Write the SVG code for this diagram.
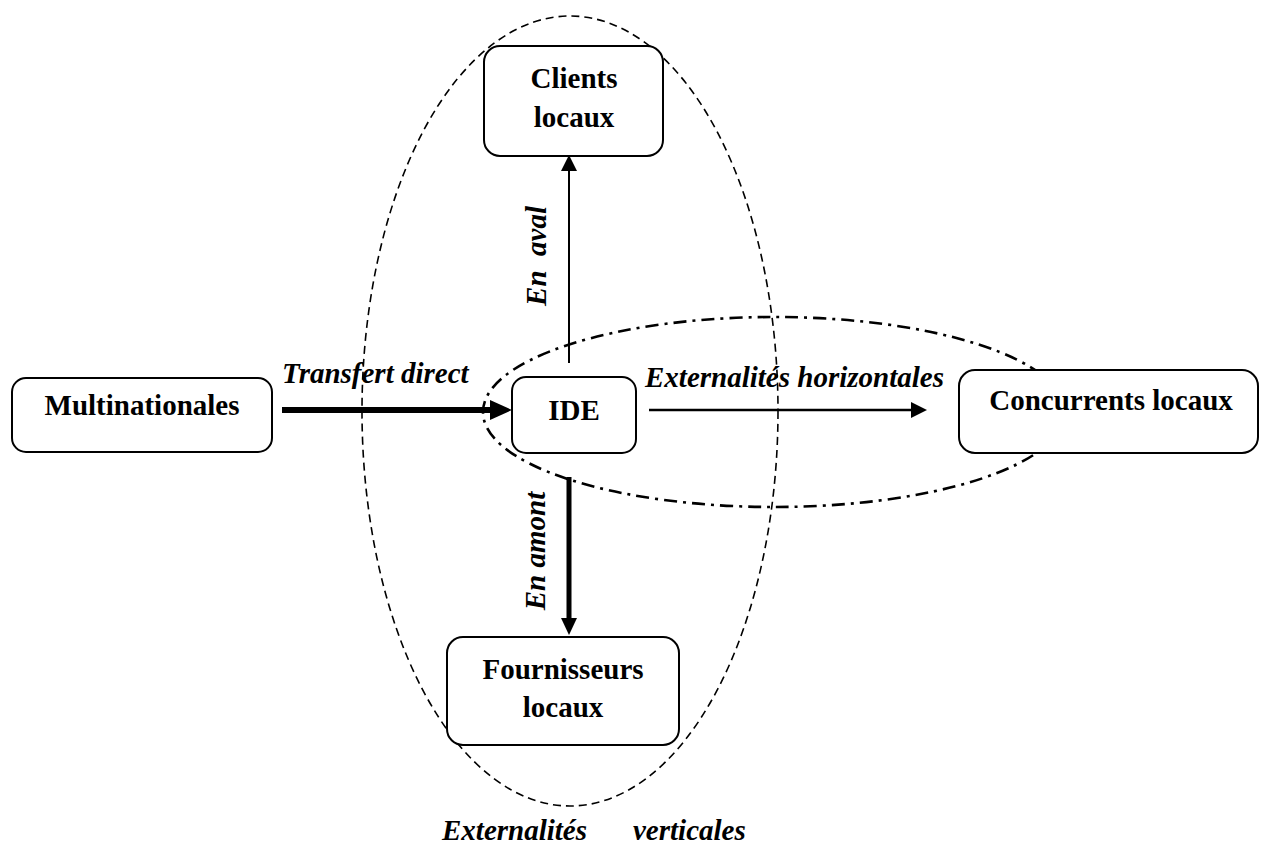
<svg xmlns="http://www.w3.org/2000/svg" width="1261" height="845" viewBox="0 0 1261 845">
<style>
.box{fill:#fff;stroke:#000;stroke-width:2}
.lbl{font-family:"Liberation Serif","Times New Roman",serif;font-size:29px;font-weight:bold;fill:#000;text-anchor:middle}
.it{font-family:"Liberation Serif","Times New Roman",serif;font-size:29px;font-weight:bold;font-style:italic;fill:#000}
.ln{stroke:#000;fill:none}
</style>
<rect width="1261" height="845" fill="#fff"/>
<g id="groups">
<ellipse cx="570" cy="411" rx="208" ry="395" fill="none" stroke="#000" stroke-width="1.6" stroke-dasharray="8 5"/>
<ellipse cx="774" cy="412" rx="291" ry="95" fill="none" stroke="#000" stroke-width="2.6" stroke-dasharray="13 6 3 6"/>
</g>
<g id="connectors">
<line class="ln" x1="282" y1="410" x2="492" y2="410" stroke-width="6"/>
<polygon points="490,400 512,410 490,420" fill="#000"/>
<line class="ln" x1="569" y1="363" x2="569" y2="170" stroke-width="2"/>
<polygon points="561,171 569,155 577,171" fill="#000"/>
<line class="ln" x1="649" y1="410" x2="912" y2="410" stroke-width="2.5"/>
<polygon points="911,402 927,410 911,418" fill="#000"/>
<line class="ln" x1="569" y1="477" x2="569" y2="620" stroke-width="5"/>
<polygon points="561,618 569,635 577,618" fill="#000"/>
</g>
<g id="labels">
<text class="it" x="282" y="383">Transfert direct</text>
<text class="it" x="645" y="387">Externalités horizontales</text>
<text class="it" transform="translate(546,256) rotate(-90)" text-anchor="middle" xml:space="preserve">En  aval</text>
<text class="it" transform="translate(545,551) rotate(-90)" text-anchor="middle">En amont</text>
<text class="it" x="442" y="840">Externalités</text>
<text class="it" x="633" y="840">verticales</text>
</g>
<g id="node-clients">
<rect class="box" x="484" y="46" width="179" height="110" rx="16"/>
<text class="lbl" x="574" y="88">Clients</text>
<text class="lbl" x="574" y="127">locaux</text>
</g>
<g id="node-multinationales">
<rect class="box" x="12" y="378" width="260" height="74" rx="14"/>
<text class="lbl" x="142" y="415">Multinationales</text>
</g>
<g id="node-ide">
<rect class="box" x="512" y="377" width="124" height="76" rx="14"/>
<text class="lbl" x="574" y="420">IDE</text>
</g>
<g id="node-concurrents">
<rect class="box" x="959" y="370" width="299" height="83" rx="16"/>
<text class="lbl" x="1111" y="410">Concurrents locaux</text>
</g>
<g id="node-fournisseurs">
<rect class="box" x="447" y="637" width="232" height="108" rx="16"/>
<text class="lbl" x="563" y="679">Fournisseurs</text>
<text class="lbl" x="563" y="717">locaux</text>
</g>
</svg>
